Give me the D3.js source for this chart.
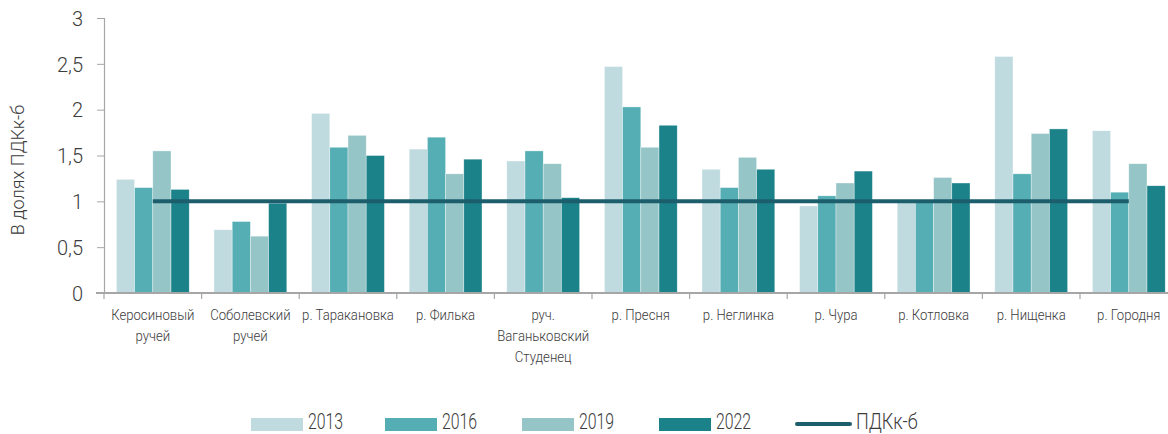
<!DOCTYPE html>
<html lang="ru">
<head>
    <meta charset="UTF-8">
    <title>В долях ПДКк-б</title>
    <script src="https://d3js.org/d3.v7.min.js"></script>
    <style>
        body { margin: 0; background: #fff; }
        svg text { font-family: Roboto, "Noto Sans", sans-serif; font-weight: 300; fill: #3c3c3c; }
    </style>
</head>
<body>
<div id="chart"></div>
<script>
    // Data
    var categories = [
        ["Керосиновый", "ручей"],
        ["Соболевский", "ручей"],
        ["р. Таракановка"],
        ["р. Филька"],
        ["руч.", "Ваганьковский", "Студенец"],
        ["р. Пресня"],
        ["р. Неглинка"],
        ["р. Чура"],
        ["р. Котловка"],
        ["р. Нищенка"],
        ["р. Городня"]
    ];
    var years = ["2013", "2016", "2019", "2022"];
    var values2013 = [1.24, 0.69, 1.96, 1.57, 1.44, 2.47, 1.35, 0.95, 1.00, 2.58, 1.77];
    var values2016 = [1.15, 0.78, 1.59, 1.70, 1.55, 2.03, 1.15, 1.06, 1.01, 1.30, 1.10];
    var values2019 = [1.55, 0.62, 1.72, 1.30, 1.41, 1.59, 1.48, 1.20, 1.26, 1.74, 1.41];
    var values2022 = [1.13, 0.98, 1.50, 1.46, 1.04, 1.83, 1.35, 1.33, 1.20, 1.79, 1.17];
    var pdkValue = 1;
    var pdkLabel = "ПДКк-б";
    var yTicks = [0, 0.5, 1, 1.5, 2, 2.5, 3];
    var yTitle = "В долях ПДКк-б";

    var series = [values2013, values2016, values2019, values2022];
    var colors = ["#bfdbe0", "#54aeb3", "#95c5c6", "#1b828a"];
    var lineColor = "#1c5e6c";

    var width = 1168, height = 434;
    var margin = {top: 18, left: 104, bottom: 293};
    var catKeys = categories.map(function(d, i) { return i; });

    var svg = d3.select("#chart").append("svg")
        .attr("width", width)
        .attr("height", height);

    // scales
    var x = d3.scaleBand()
        .domain(catKeys)
        .range([margin.left, margin.left + 11 * 97.6])
        .padding(0);

    var xInner = d3.scaleBand()
        .domain(years)
        .range([0, x.bandwidth()])
        .paddingInner(0)
        .paddingOuter(0.68);

    var y = d3.scaleLinear()
        .domain([0, 3])
        .range([margin.bottom, margin.top]);

    // bars
    years.forEach(function(yr, si) {
        svg.append("g").selectAll("rect")
            .data(series[si])
            .enter()
            .append("rect")
                .attr("x", function(d, i) { return x(i) + xInner(yr); })
                .attr("y", function(d) { return y(d); })
                .attr("width", xInner.bandwidth())
                .attr("height", function(d) { return y(0) - y(d); })
                .attr("fill", colors[si])
                .attr("stroke", "#ffffff")
                .attr("stroke-opacity", 0.6)
                .attr("stroke-width", 0.6);
    });

    // Y axis
    var yAxis = svg.append("g")
        .attr("transform", "translate(" + margin.left + ",0)")
        .call(d3.axisLeft(y).tickValues(yTicks).tickSize(7).tickPadding(14)
            .tickFormat(function(d) { return String(d).replace(".", ","); }));
    yAxis.select(".domain").attr("stroke", "#a6a6a6").attr("stroke-width", 1.2);
    yAxis.selectAll(".tick line").attr("stroke", "#a6a6a6");
    yAxis.selectAll("text")
        .style("font-size", "20px")
        .style("font-family", "Roboto, sans-serif")
        .attr("fill", "#3c3c3c")
        .attr("dy", "0.36em");

    // X axis
    var xAxis = svg.append("g")
        .attr("transform", "translate(0," + margin.bottom + ")");
    xAxis.append("line")
        .attr("x1", margin.left - 8).attr("x2", width)
        .attr("stroke", "#a6a6a6").attr("stroke-width", 2);
    xAxis.selectAll(".xtick")
        .data(catKeys.concat([categories.length]))
        .enter()
        .append("line")
            .attr("x1", function(d) { return margin.left + d * x.step(); })
            .attr("x2", function(d) { return margin.left + d * x.step(); })
            .attr("y1", 0).attr("y2", 6)
            .attr("stroke", "#a6a6a6").attr("stroke-width", 1.2);

    var labels = xAxis.selectAll(".xlabel")
        .data(categories)
        .enter()
        .append("text")
            .attr("text-anchor", "middle")
            .style("font-size", "14px")
            .attr("transform", function(d, i) { return "translate(" + (x(i) + x.bandwidth() / 2) + ",27) scale(0.94,1)"; });
    labels.selectAll("tspan")
        .data(function(d) { return d; })
        .enter()
        .append("tspan")
            .attr("x", 0)
            .attr("y", function(d, i) { return i * 21; })
            .text(function(d) { return d; });

    // ПДК line
    svg.append("line")
        .attr("x1", x(0) + x.bandwidth() / 2)
        .attr("x2", x(categories.length - 1) + x.bandwidth() / 2)
        .attr("y1", y(pdkValue))
        .attr("y2", y(pdkValue))
        .attr("stroke", lineColor)
        .attr("stroke-width", 4);

    // Y title
    svg.append("text")
        .attr("transform", "translate(24,170) rotate(-90)")
        .attr("text-anchor", "middle")
        .style("font-size", "18px")
        .text(yTitle);

    // legend
    var legendX = [251, 385, 522, 659];
    var legend = svg.append("g");
    years.forEach(function(yr, i) {
        legend.append("rect")
            .attr("x", legendX[i]).attr("y", 418)
            .attr("width", 52).attr("height", 13)
            .attr("fill", colors[i]);
        legend.append("text")
            .attr("transform", "translate(" + (legendX[i] + 57) + ",429) scale(0.72,1)")
            .style("font-size", "22px")
            .text(yr);
    });
    legend.append("line")
        .attr("x1", 797).attr("x2", 850)
        .attr("y1", 424).attr("y2", 424)
        .attr("stroke", lineColor)
        .attr("stroke-width", 4)
        .attr("stroke-linecap", "round");
    legend.append("text")
        .attr("transform", "translate(856,429) scale(0.82,1)")
        .style("font-size", "22px")
        .text(pdkLabel);
</script>
</body>
</html>
